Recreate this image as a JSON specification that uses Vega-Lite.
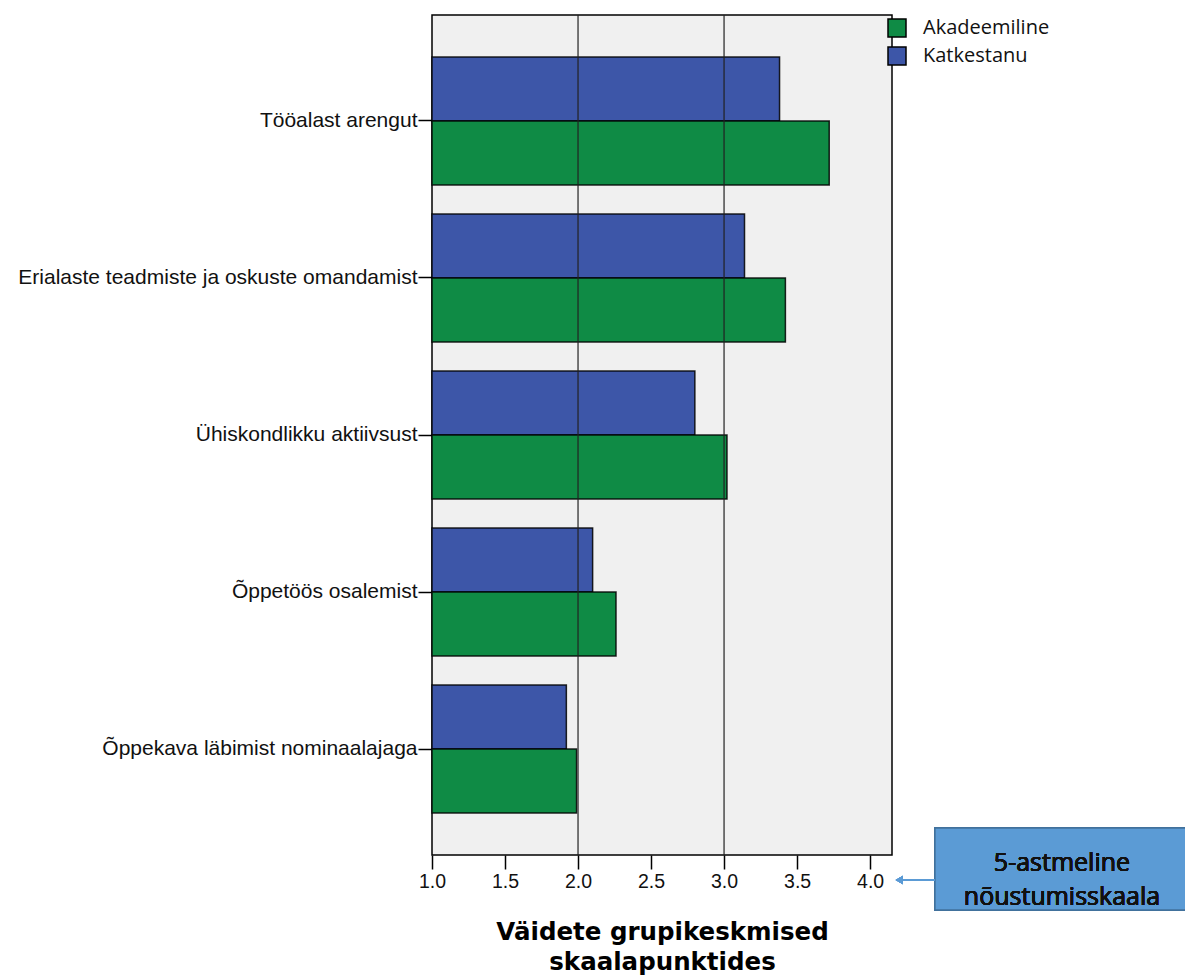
{
  "$schema": "https://vega.github.io/schema/vega-lite/v6.json",
  "autosize": {"type": "none"},
  "padding": {"left": 432, "top": 15, "right": 293, "bottom": 121},
  "width": 460,
  "height": 840,
  "background": "white",
  "config": {
    "view": {"fill": "#f0f0f0", "stroke": "#000000", "strokeWidth": 1.5},
    "font": "Liberation Sans"
  },
  "data": {
    "values": [
      {"vaide": "Tööalast arengut", "grupp": "Katkestanu", "keskmine": 3.38},
      {"vaide": "Tööalast arengut", "grupp": "Akadeemiline", "keskmine": 3.72},
      {"vaide": "Erialaste teadmiste ja oskuste omandamist", "grupp": "Katkestanu", "keskmine": 3.14},
      {"vaide": "Erialaste teadmiste ja oskuste omandamist", "grupp": "Akadeemiline", "keskmine": 3.42},
      {"vaide": "Ühiskondlikku aktiivsust", "grupp": "Katkestanu", "keskmine": 2.80},
      {"vaide": "Ühiskondlikku aktiivsust", "grupp": "Akadeemiline", "keskmine": 3.02},
      {"vaide": "Õppetöös osalemist", "grupp": "Katkestanu", "keskmine": 2.10},
      {"vaide": "Õppetöös osalemist", "grupp": "Akadeemiline", "keskmine": 2.26},
      {"vaide": "Õppekava läbimist nominaalajaga", "grupp": "Katkestanu", "keskmine": 1.92},
      {"vaide": "Õppekava läbimist nominaalajaga", "grupp": "Akadeemiline", "keskmine": 1.99}
    ]
  },
  "layer": [
    {
      "mark": {"type": "bar", "stroke": "#000000", "strokeWidth": 1.5, "strokeOpacity": 0.85},
      "encoding": {
        "y": {
          "field": "vaide", "type": "nominal", "sort": null,
          "scale": {"paddingInner": 0.185, "paddingOuter": 0.2675},
          "axis": {"title": null, "labelFontSize": 21, "labelColor": "#111111", "labelPadding": 1, "tickSize": 14, "tickColor": "#000000", "tickWidth": 1.5, "domain": false, "labelLimit": 500}
        },
        "yOffset": {"field": "grupp", "type": "nominal", "scale": {"domain": ["Katkestanu", "Akadeemiline"], "paddingInner": 0, "paddingOuter": 0}},
        "x": {
          "field": "keskmine", "type": "quantitative",
          "scale": {"domain": [1, 4.15], "zero": false, "nice": false},
          "axis": {
            "values": [1, 1.5, 2, 2.5, 3, 3.5, 4], "format": ".1f", "grid": false, "labelFlush": false,
            "labelFontSize": 19.5, "labelColor": "#111111", "labelPadding": 3,
            "tickSize": 14, "tickColor": "#000000", "tickWidth": 1.5, "domain": false,
            "title": ["Väidete grupikeskmised", "skaalapunktides"],
            "titleFont": "DejaVu Sans", "titleFontWeight": "bold", "titleFontSize": 24.5, "titleLineHeight": 30, "titleColor": "#000000", "titlePadding": 30
          }
        },
        "x2": {"datum": 1},
        "color": {
          "field": "grupp", "type": "nominal",
          "scale": {"domain": ["Akadeemiline", "Katkestanu"], "range": ["#0f8b45", "#3d56a8"]},
          "legend": {
            "title": null, "orient": "none", "legendX": 455, "legendY": 3,
            "symbolType": "square", "symbolSize": 324, "symbolStrokeColor": "#000000", "symbolStrokeWidth": 1.5,
            "symbolOpacity": 1, "labelFontSize": 20, "labelFont": "Open Sans", "labelColor": "#111111", "labelOffset": 16, "rowPadding": 4
          }
        }
      }
    },
    {
      "data": {"values": [{"v": 2}, {"v": 3}]},
      "mark": {"type": "rule", "color": "#222222", "strokeWidth": 1.5, "opacity": 0.8},
      "encoding": {"x": {"field": "v", "type": "quantitative"}}
    },
    {
      "mark": {"type": "rect", "fill": "#5b9bd5", "stroke": "#41719c", "strokeWidth": 1.5, "clip": false},
      "encoding": {
        "x": {"datum": 4.444, "type": "quantitative"},
        "x2": {"datum": 6.2},
        "y": {"datum": 3.21, "type": "quantitative", "scale": {"domain": [0, 100], "nice": false, "zero": false}, "axis": null},
        "y2": {"datum": -6.55}
      }
    },
    {
      "mark": {"type": "text", "text": ["5-astmeline", "nõustumisskaala"], "font": "Open Sans", "fontSize": 25, "lineHeight": 34, "color": "#111111", "align": "center", "baseline": "middle", "clip": false},
      "encoding": {
        "x": {"datum": 5.314, "type": "quantitative"},
        "y": {"datum": -0.95, "type": "quantitative", "scale": {"domain": [0, 100], "nice": false, "zero": false}, "axis": null}
      }
    },
    {
      "mark": {"type": "rule", "color": "#5b9bd5", "strokeWidth": 1.5, "clip": false},
      "encoding": {
        "x": {"datum": 4.2, "type": "quantitative"},
        "x2": {"datum": 4.444},
        "y": {"datum": -2.98, "type": "quantitative", "scale": {"domain": [0, 100], "nice": false, "zero": false}, "axis": null}
      }
    },
    {
      "mark": {"type": "point", "shape": "triangle-left", "filled": true, "color": "#5b9bd5", "size": 70, "opacity": 1, "clip": false},
      "encoding": {
        "x": {"datum": 4.2, "type": "quantitative"},
        "y": {"datum": -2.98, "type": "quantitative", "scale": {"domain": [0, 100], "nice": false, "zero": false}, "axis": null}
      }
    }
  ],
  "resolve": {"scale": {"y": "independent", "color": "independent"}}
}
